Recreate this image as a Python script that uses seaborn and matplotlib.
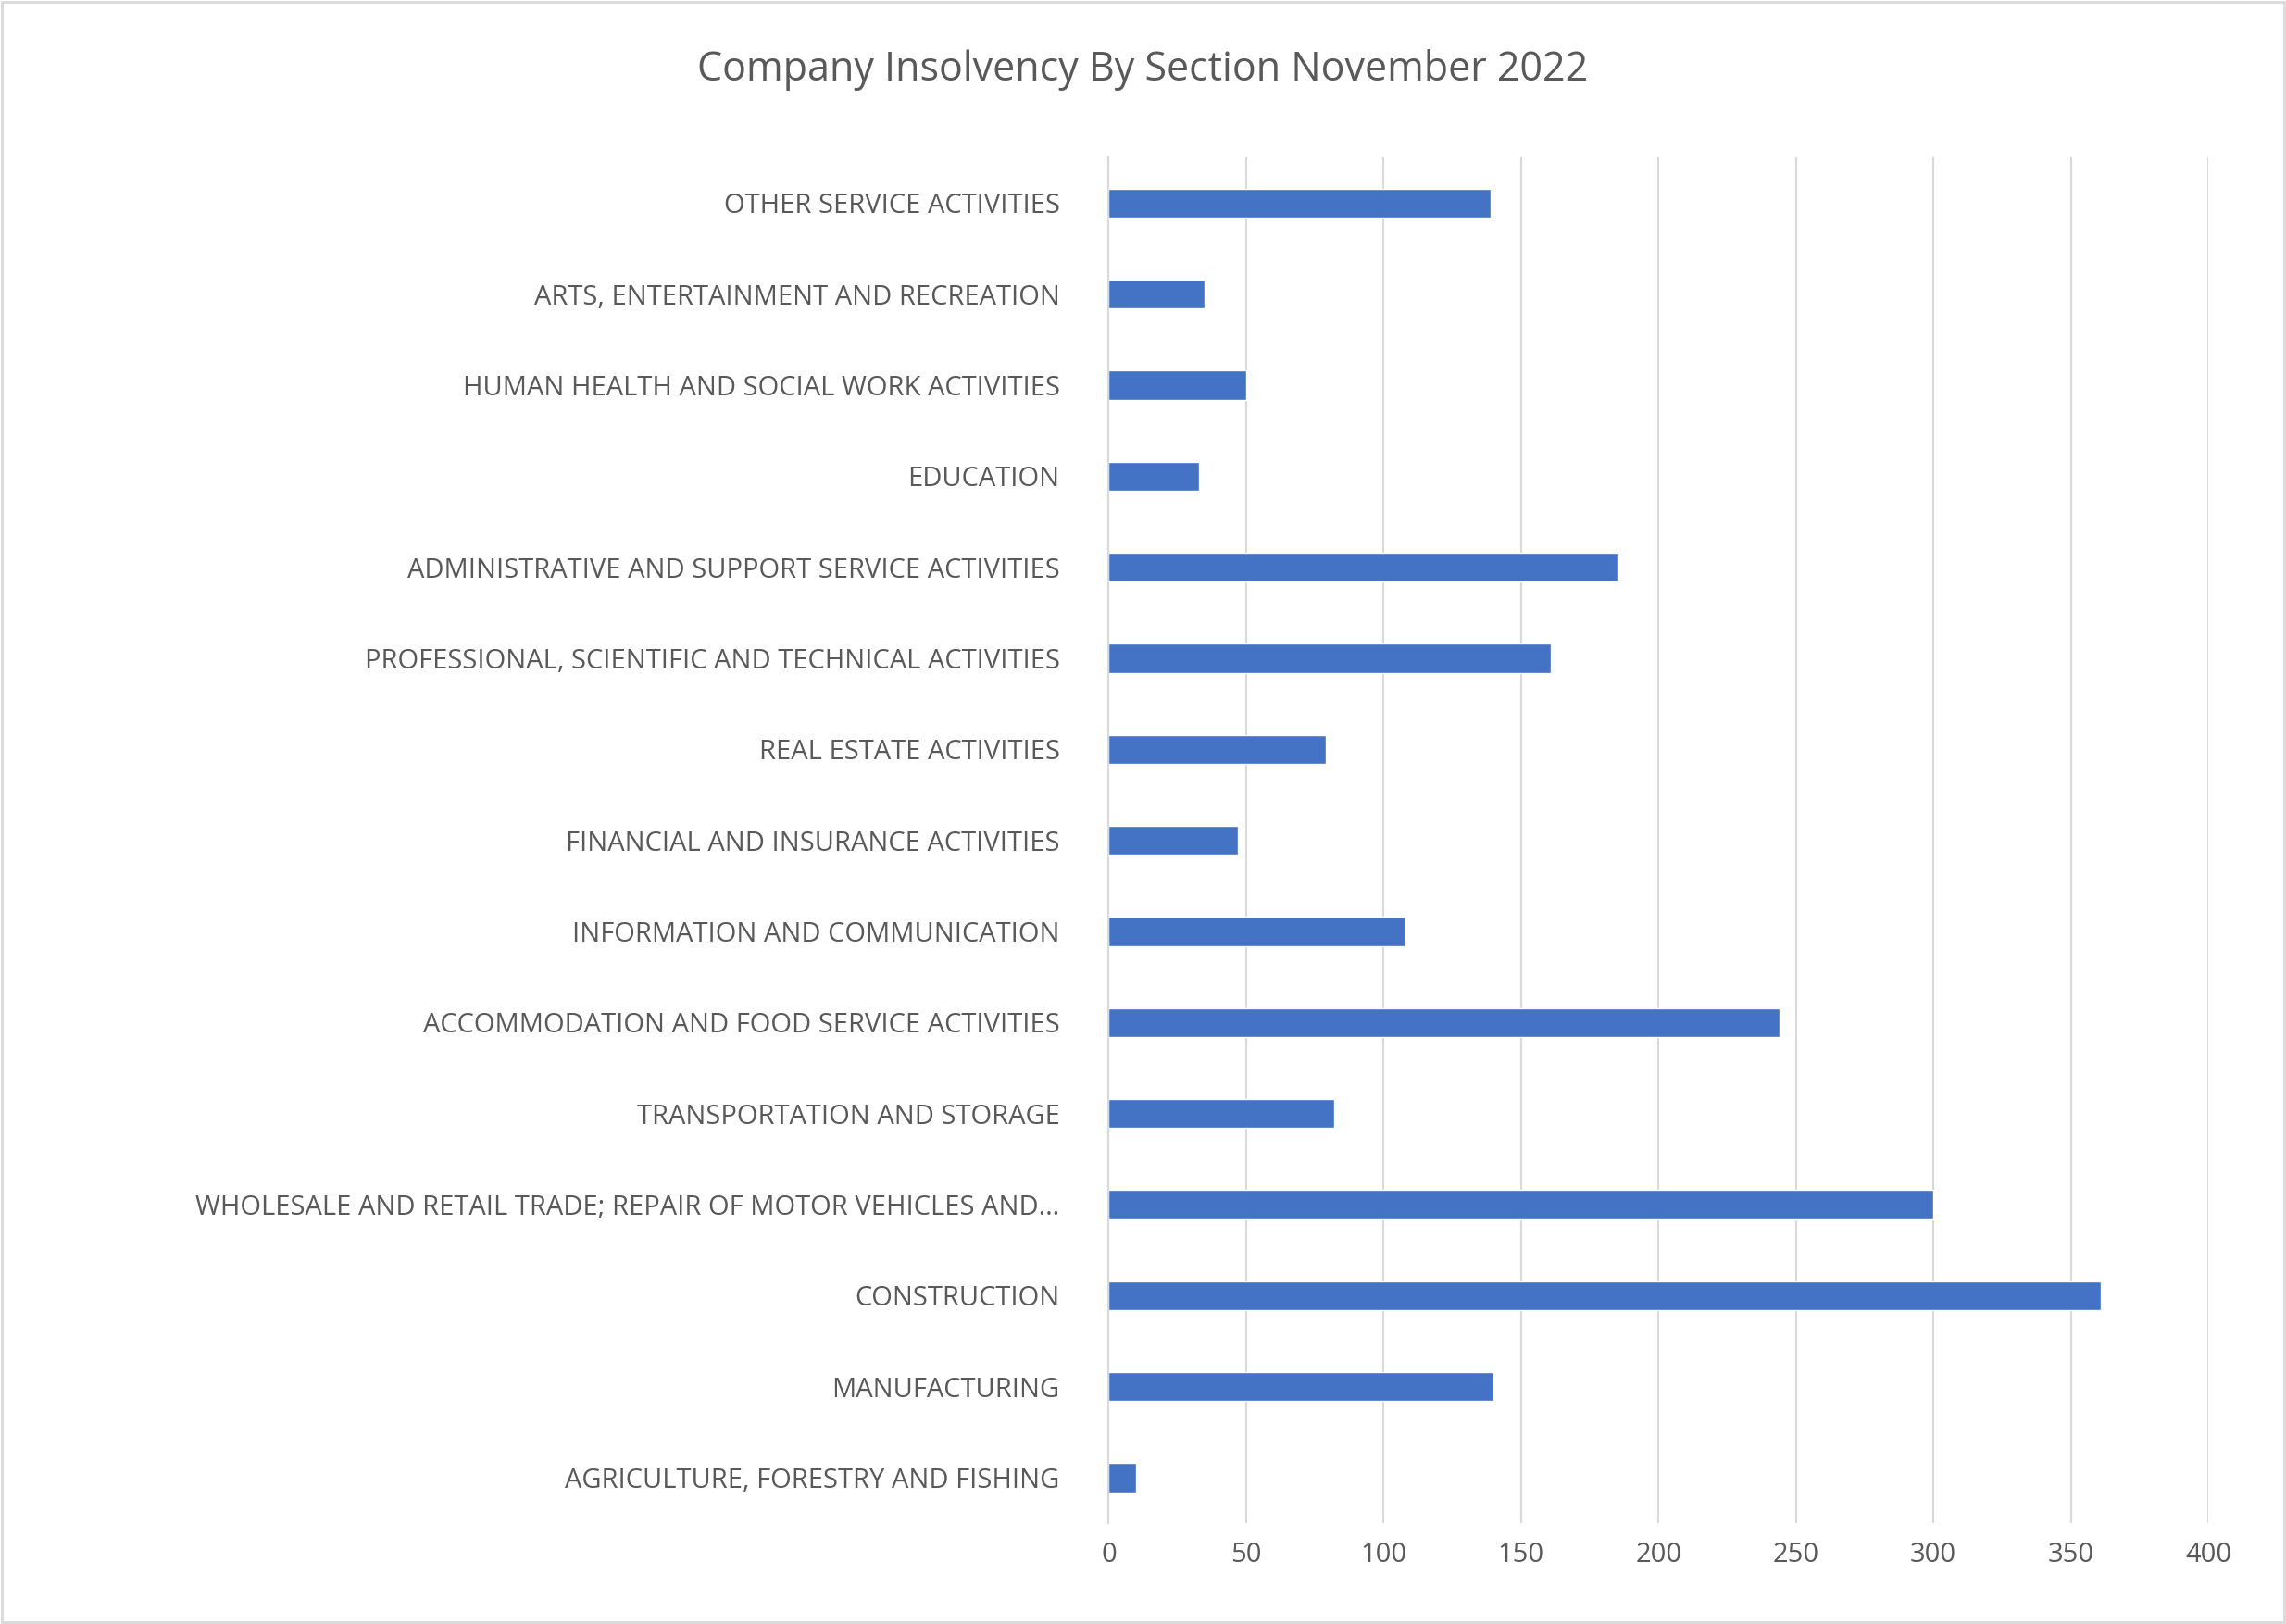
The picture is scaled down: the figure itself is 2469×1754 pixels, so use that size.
import matplotlib
matplotlib.use("Agg")
import matplotlib.pyplot as plt
import seaborn as sns
import pandas as pd

categories = [
    "OTHER SERVICE ACTIVITIES",
    "ARTS, ENTERTAINMENT AND RECREATION",
    "HUMAN HEALTH AND SOCIAL WORK ACTIVITIES",
    "EDUCATION",
    "ADMINISTRATIVE AND SUPPORT SERVICE ACTIVITIES",
    "PROFESSIONAL, SCIENTIFIC AND TECHNICAL ACTIVITIES",
    "REAL ESTATE ACTIVITIES",
    "FINANCIAL AND INSURANCE ACTIVITIES",
    "INFORMATION AND COMMUNICATION",
    "ACCOMMODATION AND FOOD SERVICE ACTIVITIES",
    "TRANSPORTATION AND STORAGE",
    "WHOLESALE AND RETAIL TRADE; REPAIR OF MOTOR VEHICLES AND\u2026",
    "CONSTRUCTION",
    "MANUFACTURING",
    "AGRICULTURE, FORESTRY AND FISHING",
]
values = [139, 35, 50, 33, 185, 161, 79, 47, 108, 244, 82, 300, 361, 140, 10]
xticks = [0, 50, 100, 150, 200, 250, 300, 350, 400]

sns.set_theme(style="white")
plt.rcParams['font.family'] = ['Open Sans', 'DejaVu Sans']
txt = "#595959"

df = pd.DataFrame({"cat": categories, "val": values})
fig = plt.figure(figsize=(24.69, 17.54), dpi=100)
ax = fig.add_axes([0.485, 0.062, 0.481, 0.841])
sns.barplot(data=df, y="cat", x="val", color="#4472C4", width=0.32, ax=ax, saturation=1)
ax.set_xlim(0, 400)
ax.set_xticks(xticks)
ax.xaxis.grid(True, color="#D9D9D9", linewidth=1.5)
ax.set_axisbelow(True)
for s in ["top", "right", "bottom"]:
    ax.spines[s].set_visible(False)
ax.spines["left"].set_color("#D9D9D9")
ax.spines["left"].set_linewidth(1.5)
ax.set_xlabel("")
ax.set_ylabel("")
ax.tick_params(axis="both", length=0, labelsize=21, labelcolor=txt)
ax.tick_params(axis="y", pad=38)
ax.tick_params(axis="x", pad=14)
fig.text(0.5, 0.957, "Company Insolvency By Section November 2022", ha="center", va="center",
         fontsize=31, color=txt)
fig.patches.append(plt.Rectangle((0.001, 0.001), 0.998, 0.998, transform=fig.transFigure,
                                 fill=False, edgecolor="#D9D9D9", linewidth=2))
fig.savefig("out.png", dpi=100)
